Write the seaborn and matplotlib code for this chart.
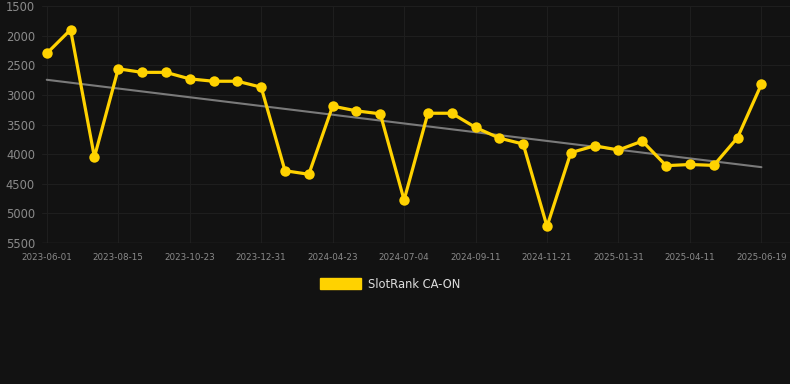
import numpy as np
import pandas as pd
import seaborn as sns
from matplotlib import pyplot as plt
from matplotlib.patches import Patch

# Rank values, one per sample (31 samples)
ranks = [2300, 1900, 4050, 2560, 2620, 2620, 2730, 2770, 2770, 2870,
         4280, 4340, 3190, 3270, 3320, 4775, 3310, 3310, 3550, 3730,
         3830, 5220, 3975, 3860, 3930, 3780, 4195, 4175, 4190, 3720, 2820]
# labelled dates, every third sample
tick_labels = ["2023-06-01", "2023-08-15", "2023-10-23", "2023-12-31", "2024-04-23",
               "2024-07-04", "2024-09-11", "2024-11-21", "2025-01-31", "2025-04-11",
               "2025-06-19"]
y_ticks = [1500, 2000, 2500, 3000, 3500, 4000, 4500, 5000, 5500]
series_name = "SlotRank CA-ON"

df = pd.DataFrame({"idx": np.arange(len(ranks)), "rank": ranks})

bg = "#121212"
gold = "#FFD200"
sns.set_theme(style="dark")
plt.rcParams["font.family"] = ["DejaVu Sans"]

fig = plt.figure(figsize=(7.9, 3.84), dpi=100, facecolor=bg)
ax = fig.add_axes([42 / 790, 141 / 384, 748 / 790, 237 / 384])
ax.set_facecolor(bg)

# trend line (least squares over the samples)
sns.regplot(data=df, x="idx", y="rank", ax=ax, ci=None, scatter=False,
            line_kws={"color": "#7a7a7a", "lw": 1.5, "zorder": 2}, truncate=True)

sns.lineplot(data=df, x="idx", y="rank", ax=ax, color=gold, lw=2.3,
             marker="o", markersize=7.5, markeredgewidth=0, zorder=3)

ax.set_ylim(5500, 1500)
ax.set_xlim(-0.2, 31.2)
ax.set_yticks(y_ticks)
ax.set_xticks(np.arange(0, len(ranks), 3))
ax.set_xticklabels(tick_labels)
ax.tick_params(axis="y", colors="#8a8a8a", labelsize=8.3, length=0, pad=5)
ax.tick_params(axis="x", colors="#8a8a8a", labelsize=6.3, length=5, pad=2, color="#1f1f1f")
ax.grid(True, color="#1e1e1e", lw=0.8)
ax.set_xlabel("")
ax.set_ylabel("")
for s in ax.spines.values():
    s.set_visible(False)
ax.axhline(5500, color="#2c2c2c", lw=1, zorder=1)

fig.legend(handles=[Patch(facecolor=gold, edgecolor=gold, label=series_name)],
           loc="center", bbox_to_anchor=(390 / 790, 1 - 284 / 384), frameon=False,
           labelcolor="#dddddd", fontsize=8.3, handlelength=3.6, handleheight=1.0,
           handletextpad=0.6)

fig.savefig("out.png", dpi=100, facecolor=bg)
